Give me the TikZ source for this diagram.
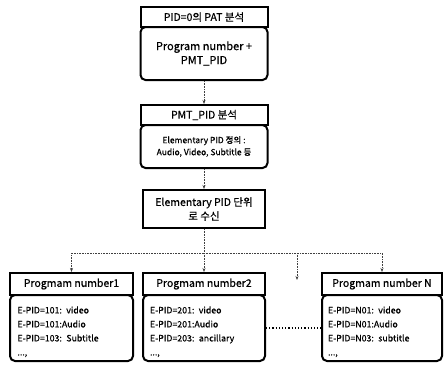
\documentclass[tikz,border=0pt]{standalone}
\usepackage{fontspec}
\setmainfont[FakeBold=0.6]{Noto Sans CJK KR}
\usetikzlibrary{arrows.meta}
\newcommand{\toppad}{\rule{0pt}{14.5pt}}
\begin{document}
\begin{tikzpicture}[x=1pt,y=-1pt,
  hdr/.style={draw=black, line width=2pt, fill=white, inner sep=1pt, align=center, font=\fontsize{10.5}{12}\selectfont},
  bodyr/.style={draw=black, line width=2pt, fill=white, rounded corners=5pt, inner sep=2pt, align=center, font=\fontsize{11}{14}\selectfont},
  small/.style={font=\fontsize{8.5}{12}\selectfont},
  list/.style={bodyr, align=left, text width=108pt, font=\fontsize{8.8}{14}\selectfont},
  conn/.style={draw=black!75, line width=0.6pt, densely dotted, -{Stealth[length=4pt,width=3pt]}},
  plain/.style={draw=black!75, line width=0.6pt, densely dotted}
]
\useasboundingbox (0,0) rectangle (444,365);

% top group
\node[bodyr, minimum width=127, minimum height=53] (prog) at (204,53.5) {Program number +\\PMT\_PID};
\node[hdr, minimum width=127, minimum height=20] (pat) at (204,17) {PID=0의 PAT 분석};

% second group
\node[bodyr, small, minimum width=127, minimum height=43] (elem) at (204,146.5) {Elementary PID 정의 :\\Audio, Video, Subtitle 등};
\node[hdr, minimum width=127, minimum height=20] (pmt) at (204,115) {PMT\_PID 분석};

% third box
\node[hdr, minimum width=122, minimum height=38, font=\fontsize{10.5}{14}\selectfont] (recv) at (204,209) {Elementary PID 단위\\로 수신};

% bottom boxes
\node[list, minimum width=123, minimum height=66] (p1b) at (71.5,328) {\toppad E-PID=101: video\\E-PID=101:Audio\\E-PID=103: Subtitle\\...,};
\node[hdr, minimum width=123, minimum height=22] (p1h) at (71.5,284) {Progmam number1};

\node[list, minimum width=122, minimum height=66] (p2b) at (204,328) {\toppad E-PID=201: video\\E-PID=201:Audio\\E-PID=203: ancillary\\...,};
\node[hdr, minimum width=122, minimum height=22] (p2h) at (204,284) {Progmam number2};

\node[list, minimum width=120, minimum height=66] (pNb) at (382,328) {\toppad E-PID=N01: video\\E-PID=N01:Audio\\E-PID=N03: subtitle\\...,};
\node[hdr, minimum width=120, minimum height=22] (pNh) at (382,284) {Progmam number N};

% connectors
\draw[conn] (prog.south) -- (pmt.north);
\draw[conn] (elem.south) -- (recv.north);
\coordinate (split) at (204,253);
\draw[plain] (recv.south) -- (split);
\draw[conn] (split) -- (p2h.north);
\draw[conn] (split) -| (p1h.north);
\draw[conn] (split) -| (pNh.north);
\coordinate (m1) at (297,253);
\coordinate (m2) at (297,280);
\draw[conn] (m1) -- (m2);
\draw[black, line width=1.2pt, dotted] (p2b.east) -- (pNb.west);
\end{tikzpicture}
\end{document}
